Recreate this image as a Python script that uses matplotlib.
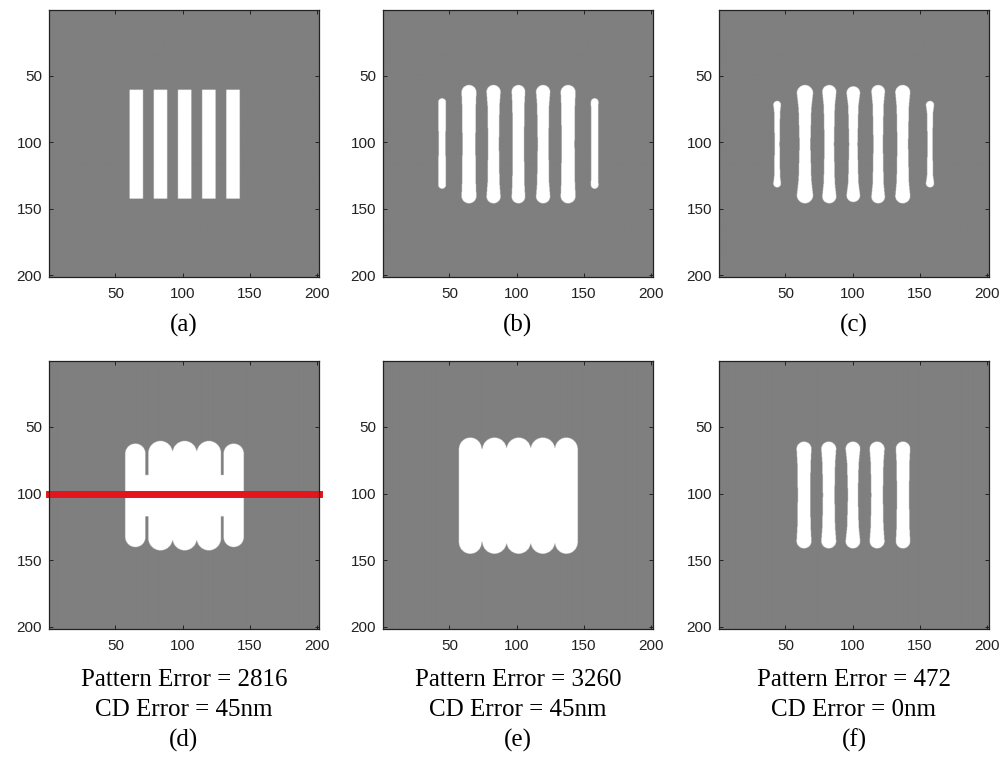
#!/usr/bin/env python3

import numpy as np
import matplotlib.pyplot as plt
from matplotlib.colors import ListedColormap

# =============================================================================
# pattern geometry, in image pixels (201 x 201, row 1 at top)

# (a) target: five straight lines
a_x0 = [60.5, 78.5, 96.5, 114.5, 132.5]
a_x1 = [70.5, 88.5, 106.5, 124.5, 142.5]
a_y0 = [60.5, 60.5, 60.5, 60.5, 60.5]
a_y1 = [142.5, 142.5, 142.5, 142.5, 142.5]

# (b) printed lines: centre, half width at the ends, half width in the middle, top, bottom
b_xc     = [44.5, 64.5, 82.8, 101.3, 119.7, 138.3, 158.1]
b_hw_end = [2.8, 5.5, 5.2, 5.0, 5.2, 5.5, 2.8]
b_hw_mid = [2.6, 4.8, 4.0, 4.2, 4.0, 4.8, 2.6]
b_top    = [67, 57, 57, 57, 57, 57, 67]
b_bot    = [135, 146, 146, 146, 146, 146, 135]

# (c)
c_xc     = [43.8, 64.5, 82.6, 100.5, 119.0, 137.3, 157.6]
c_hw_end = [2.8, 6.0, 5.2, 5.0, 5.0, 5.5, 3.0]
c_hw_mid = [1.8, 4.0, 3.5, 3.1, 3.5, 4.0, 1.8]
c_top    = [69, 57, 57, 58, 57, 57, 69]
c_bot    = [134, 146, 146, 145, 146, 146, 134]

# (d) merged blob: lobes plus connecting blocks
d_xc     = [64.8, 83.5, 101.5, 119.5, 138.0]
d_hw     = [7.5, 9.0, 9.0, 9.0, 7.5]
d_top    = [62.5, 60.5, 60.5, 60.5, 62.5]
d_bot    = [140.0, 142.5, 142.5, 142.5, 140.0]
d_fill_x0 = [64.8, 83.5]
d_fill_x1 = [138.0, 119.5]
d_fill_y0 = [86.0, 69.0]
d_fill_y1 = [117.0, 134.0]

# (e) merged block
e_xc     = [65.5, 83.5, 101.5, 119.5, 137.0]
e_hw     = [8.4, 9.0, 9.0, 9.0, 8.4]
e_top    = [58.0, 58.0, 58.0, 58.0, 58.0]
e_bot    = [145.0, 145.0, 145.0, 145.0, 145.0]
e_fill_x0 = [65.5]
e_fill_x1 = [137.0]
e_fill_y0 = [66.5]
e_fill_y1 = [136.0]

# (f)
f_xc     = [63.8, 82.2, 100.2, 118.2, 137.5]
f_hw_end = [5.5, 5.5, 5.4, 5.5, 5.3]
f_hw_mid = [4.6, 4.3, 3.7, 4.3, 4.5]
f_top    = [61, 61, 61, 61, 61]
f_bot    = [141, 141, 141, 141, 141]

captions = ["(a)", "(b)", "(c)", "(d)", "(e)", "(f)"]
pattern_err = [None, None, None, 2816, 3260, 472]
cd_err = [None, None, None, 45, 45, 0]

line_y = 100   # cut line drawn on (d)

# =============================================================================

SS = 4
n = 201 * SS
g = 0.5 + (np.arange(n) + 0.5) / SS
X, Y = np.meshgrid(g, g)


def rects(x0, x1, y0, y1):
    m = np.zeros_like(X, dtype=bool)
    for a, b, c, d in zip(x0, x1, y0, y1):
        m |= (X >= a) & (X <= b) & (Y >= c) & (Y <= d)
    return m


def bars(xc, hw_end, hw_mid, top, bot):
    m = np.zeros_like(X, dtype=bool)
    for c, he, hm, y0, y1 in zip(xc, hw_end, hw_mid, top, bot):
        ya, yb = y0 + he, y1 - he
        ym = 0.5 * (ya + yb)
        sh = hm + 0.35 * (he - hm)
        hw = np.interp(Y, [ya, ya + 2 * he, ym, yb - 2 * he, yb], [he, sh, hm, sh, he])
        body = (Y >= ya) & (Y <= yb) & (np.abs(X - c) <= hw)
        caps = ((X - c) ** 2 + (Y - ya) ** 2 <= he ** 2) | ((X - c) ** 2 + (Y - yb) ** 2 <= he ** 2)
        m |= body | caps
    return m


imgs = [
    rects(a_x0, a_x1, a_y0, a_y1),
    bars(b_xc, b_hw_end, b_hw_mid, b_top, b_bot),
    bars(c_xc, c_hw_end, c_hw_mid, c_top, c_bot),
    bars(d_xc, d_hw, d_hw, d_top, d_bot) | rects(d_fill_x0, d_fill_x1, d_fill_y0, d_fill_y1),
    bars(e_xc, e_hw, e_hw, e_top, e_bot) | rects(e_fill_x0, e_fill_x1, e_fill_y0, e_fill_y1),
    bars(f_xc, f_hw_end, f_hw_mid, f_top, f_bot),
]

# =============================================================================

cmap = ListedColormap(["#7f7f7f", "#ffffff"])
serif = "Liberation Serif"

fig = plt.figure(figsize=(10.04, 7.58), dpi=100)

lefts = [49 / 1004, 383 / 1004, 719 / 1004]
w = 270 / 1004
rows = [(1 - 277 / 758, 267 / 758), (1 - 629 / 758, 268 / 758)]

for i, img in enumerate(imgs):
    r, c = divmod(i, 3)
    b, h = rows[r]
    ax = fig.add_axes([lefts[c], b, w, h])
    ax.imshow(img.astype(float), cmap=cmap, vmin=0, vmax=1,
              extent=(0.5, 201.5, 201.5, 0.5), aspect="auto",
              interpolation="bilinear")

    ax.set_xticks([50, 100, 150, 200])
    ax.set_yticks([50, 100, 150, 200])
    ax.tick_params(direction="in", top=True, right=True, length=3, width=0.7,
                   labelsize=11, pad=5, colors="#222222")
    ax.tick_params(axis="x", pad=7)
    for lab in ax.get_xticklabels() + ax.get_yticklabels():
        lab.set_family("Liberation Sans")
    for s in ax.spines.values():
        s.set_linewidth(0.9)
        s.set_color("#222222")

    if i == 3:
        ax.plot([0.5, 201.5], [line_y, line_y], color="#e3161c", lw=5,
                solid_capstyle="projecting", clip_on=False)

    xc = lefts[c] + w / 2
    if r == 0:
        fig.text(xc, 1 - 332 / 758, captions[i], ha="center", va="baseline",
                 family=serif, fontsize=18)
    else:
        fig.text(xc, 1 - 686 / 758, "Pattern Error = %d" % pattern_err[i],
                 ha="center", va="baseline", family=serif, fontsize=18)
        fig.text(xc, 1 - 716 / 758, "CD Error = %dnm" % cd_err[i],
                 ha="center", va="baseline", family=serif, fontsize=18)
        fig.text(xc, 1 - 747 / 758, captions[i], ha="center", va="baseline",
                 family=serif, fontsize=18)

fig.savefig("out.png", dpi=100)
